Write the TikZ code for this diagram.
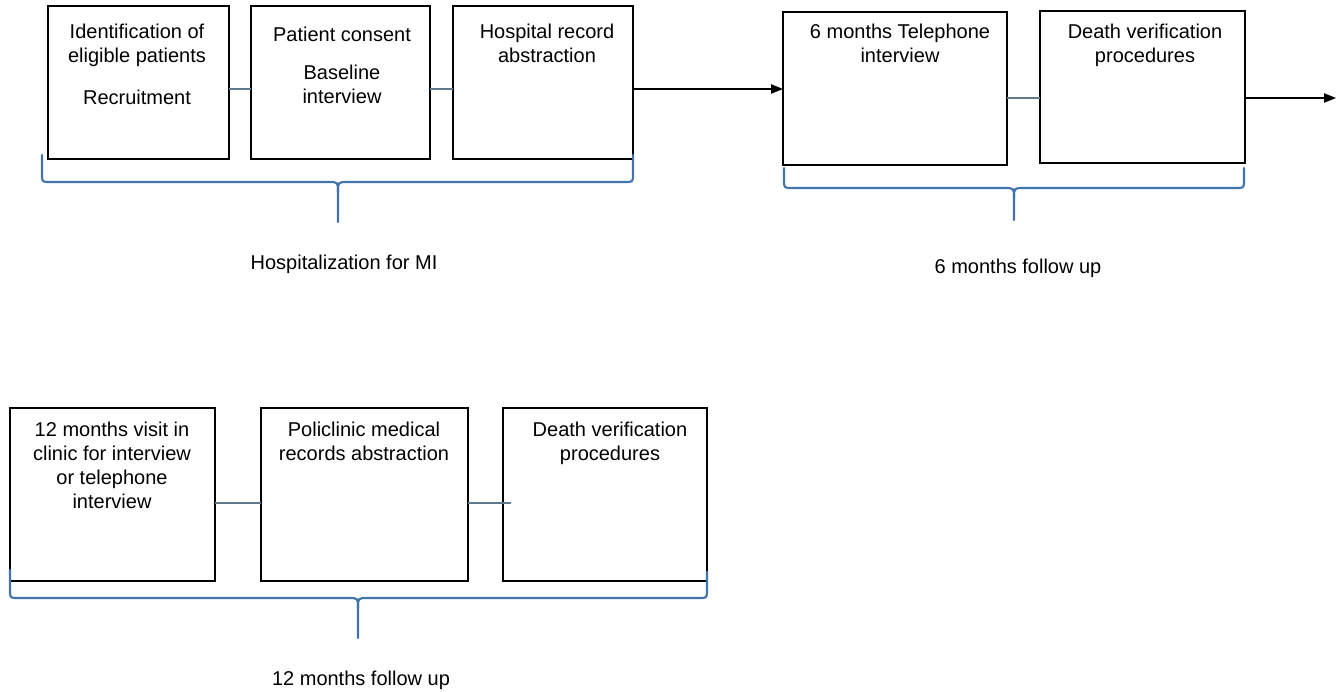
\documentclass[tikz,border=0pt]{standalone}
\usepackage{fontspec}
\setmainfont{Liberation Sans}
\usetikzlibrary{arrows.meta,fit}
\definecolor{bracecol}{RGB}{66,115,172}
\definecolor{linkcol}{RGB}{95,122,140}
\begin{document}
\begin{tikzpicture}[x=0.75pt,y=-0.75pt,
  box/.style={draw=black,line width=1pt,inner sep=0pt,outer sep=0pt},
  txt/.style={align=center,font=\fontsize{15}{18}\selectfont,inner sep=0pt,anchor=north},
  link/.style={draw=linkcol,line width=1pt},
  flow/.style={draw=black,line width=1pt,-{Triangle[length=9pt,width=7pt]}},
  brace/.style={draw=bracecol,line width=1.6pt,line join=round,line cap=round},
  lbl/.style={font=\fontsize{15}{18}\selectfont,inner sep=0pt}]
\useasboundingbox (0,0) rectangle (1339,692);
\fill[white] (0,0) rectangle (1339,692);

% top row boxes
\node[box,fit={(48,6) (229,159)}] (b1) {};
\node[box,fit={(251,6) (430,159)}] (b2) {};
\node[box,fit={(453,6) (633,159)}] (b3) {};
\node[box,fit={(783,12) (1007,165)}] (b4) {};
\node[box,fit={(1040,11) (1245,163)}] (b5) {};
% bottom row boxes
\node[box,fit={(10,408) (215,581)}] (b6) {};
\node[box,fit={(261,408) (468,581)}] (b7) {};
\node[box,fit={(503,408) (707,581)}] (b8) {};

% texts
\node[txt] (t1) at (137,24) {Identification of\\eligible patients\\[13.5pt]Recruitment};
\node[txt] (t2) at (342,27) {Patient consent\\[10.5pt]Baseline\\interview};
\node[txt] (t3) at (547,24) {Hospital record\\abstraction};
\node[txt] (t4) at (900,24) {6 months Telephone\\interview};
\node[txt] (t5) at (1145,24) {Death verification\\procedures};
\node[txt] (t6) at (112,422) {12 months visit in\\clinic for interview\\or telephone\\interview};
\node[txt] (t7) at (364,422) {Policlinic medical\\records abstraction};
\node[txt] (t8) at (610,422) {Death verification\\procedures};

% connectors
\coordinate (rowA) at (0,89);
\coordinate (rowB) at (0,98);
\coordinate (rowC) at (0,503);
\coordinate (endA) at (1336,98);
\coordinate (endC) at (511,503);
\draw[link] (b1.east |- rowA) -- (b2.west |- rowA);
\draw[link] (b2.east |- rowA) -- (b3.west |- rowA);
\draw[flow] (b3.east |- rowA) -- (b4.west |- rowA);
\draw[link] (b4.east |- rowB) -- (b5.west |- rowB);
\draw[flow] (b5.east |- rowB) -- (endA);
\draw[link] (b6.east |- rowC) -- (b7.west |- rowC);
\draw[link] (b7.east |- rowC) -- (endC);

% braces
\draw[brace] (42,155) -- (42,174) .. controls (42,182) .. (50,182) -- (328,182)
  .. controls (338,182) .. (338,192) -- (338,222);
\draw[brace] (338,192) .. controls (338,182) .. (348,182) -- (625,182)
  .. controls (633,182) .. (633,174) -- (633,155);
\draw[brace] (784,168) -- (784,180) .. controls (784,188) .. (792,188) -- (1004,188)
  .. controls (1014,188) .. (1014,198) -- (1014,220);
\draw[brace] (1014,198) .. controls (1014,188) .. (1024,188) -- (1236,188)
  .. controls (1244,188) .. (1244,180) -- (1244,168);
\draw[brace] (10,570) -- (10,590) .. controls (10,598) .. (18,598) -- (348,598)
  .. controls (358,598) .. (358,608) -- (358,638);
\draw[brace] (358,608) .. controls (358,598) .. (368,598) -- (699,598)
  .. controls (707,598) .. (707,590) -- (707,572);

% labels
\node[lbl] (l1) at (344,264) {Hospitalization for MI};
\node[lbl] (l2) at (1018,268.5) {6 months follow up};
\node[lbl] (l3) at (361,680) {12 months follow up};
\end{tikzpicture}
\end{document}
